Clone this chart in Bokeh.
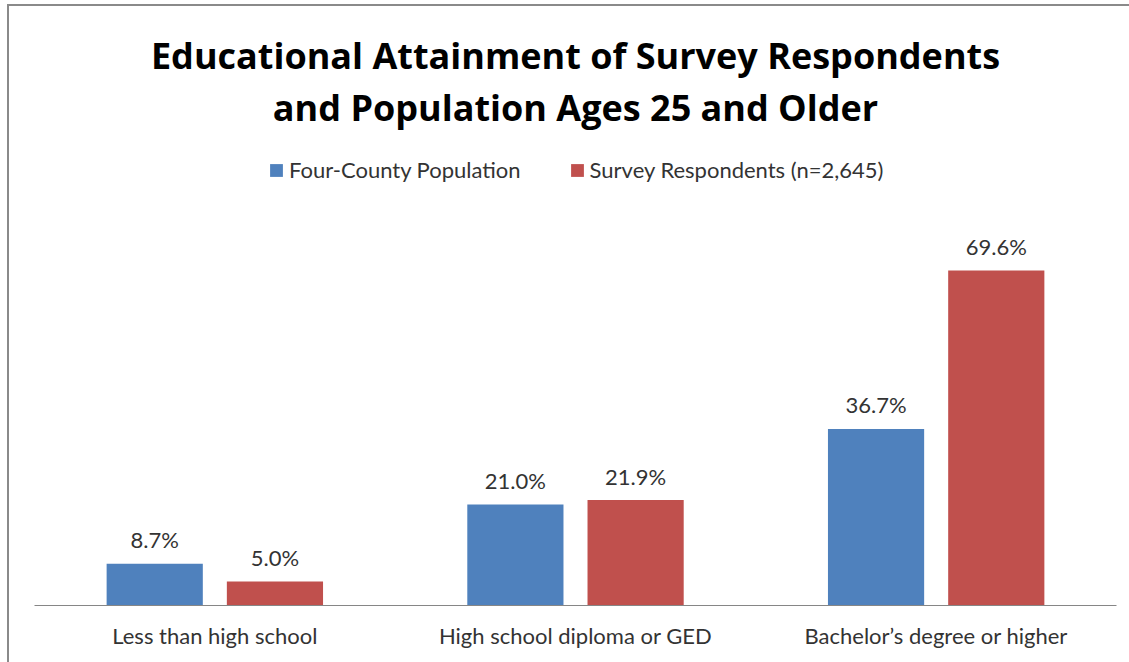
from bokeh.plotting import figure
from bokeh.models import (ColumnDataSource, FactorRange, Range1d, Label,
                          Legend, LegendItem)
from bokeh.transform import dodge
from bokeh.core.properties import value
from bokeh.embed import file_html
from bokeh.resources import INLINE

# ---- data ----
categories = ["Less than high school", "High school diploma or GED",
              "Bachelor\u2019s degree or higher"]
four_county = [8.7, 21.0, 36.7]
respondents = [5.0, 21.9, 69.6]
series_names = ["Four-County Population", "Survey Respondents (n=2,645)"]
title_lines = ["Educational Attainment of Survey Respondents",
               "and Population Ages 25 and Older"]

BLUE = "#4F81BD"
RED = "#C0504D"
TEXT = "#333333"
BORDER = "#8A8A8A"
FONT = "Lato"
TITLE_FONT = "Open Sans"

source = ColumnDataSource(dict(
    cat=categories,
    pop=four_county,
    resp=respondents,
    pop_lbl=[f"{v:.1f}%" for v in four_county],
    resp_lbl=[f"{v:.1f}%" for v in respondents],
))

# The plot frame reaches the top of the canvas so the title and legend sit
# inside it; 80 % of the value scale occupies the lower 385 px of the frame.
y_top = 80 * 605 / 385

p = figure(width=1129, height=662,
           x_range=FactorRange(*categories, range_padding=0),
           y_range=Range1d(0, y_top),
           output_backend="svg", toolbar_location=None,
           min_border_left=34, min_border_right=13,
           min_border_top=0, min_border_bottom=57,
           outline_line_color=None,
           background_fill_alpha=0, border_fill_alpha=0)

# thin grey chart border along the left and top edges
p.styles = {
    "background": (f"linear-gradient({BORDER}, {BORDER}) 7px 4px / 2px 100% no-repeat, "
                   f"linear-gradient({BORDER}, {BORDER}) 7px 4px / 100% 2px no-repeat, "
                   "white"),
}

p.xgrid.grid_line_color = None
p.ygrid.grid_line_color = None
p.yaxis.visible = False

ax = p.xaxis[0]
ax.axis_line_color = "#868686"
ax.axis_line_width = 1
ax.major_tick_line_color = None
ax.minor_tick_line_color = None
ax.major_label_standoff = 10
ax.major_label_text_font = FONT
ax.major_label_text_font_size = "22px"
ax.major_label_text_color = TEXT

bar_w = 0.2667
off = 1 / 6
r_pop = p.vbar(x=dodge("cat", -off, range=p.x_range), top="pop", width=bar_w,
               source=source, fill_color=BLUE, line_color=None)
r_resp = p.vbar(x=dodge("cat", off, range=p.x_range), top="resp", width=bar_w,
                source=source, fill_color=RED, line_color=None)

for col, lbl, sign in (("pop", "pop_lbl", -1), ("resp", "resp_lbl", 1)):
    p.text(x=dodge("cat", sign * off, range=p.x_range), y=col, text=lbl,
           source=source, text_align="center", text_baseline="middle",
           y_offset=-24, text_font=value(FONT), text_font_size="22px",
           text_color=TEXT)

# chart title, two centred lines
for txt, yb in zip(title_lines, (550, 498)):
    p.add_layout(Label(x=541, y=yb, x_units="screen", y_units="screen",
                       text=txt, text_align="center",
                       text_baseline="alphabetic", text_font=TITLE_FONT,
                       text_font_size="36px", text_font_style="bold",
                       text_color="black"))

legend = Legend(items=[LegendItem(label=series_names[0], renderers=[r_pop]),
                       LegendItem(label=series_names[1], renderers=[r_resp])],
                orientation="horizontal", location=(234, 422),
                glyph_width=16, glyph_height=16, label_standoff=5,
                spacing=48, padding=0, margin=0,
                border_line_color=None, background_fill_alpha=0,
                label_text_font=FONT, label_text_font_size="22px",
                label_text_color=TEXT)
p.add_layout(legend)

open("out.html", "w").write(file_html(p, INLINE))
